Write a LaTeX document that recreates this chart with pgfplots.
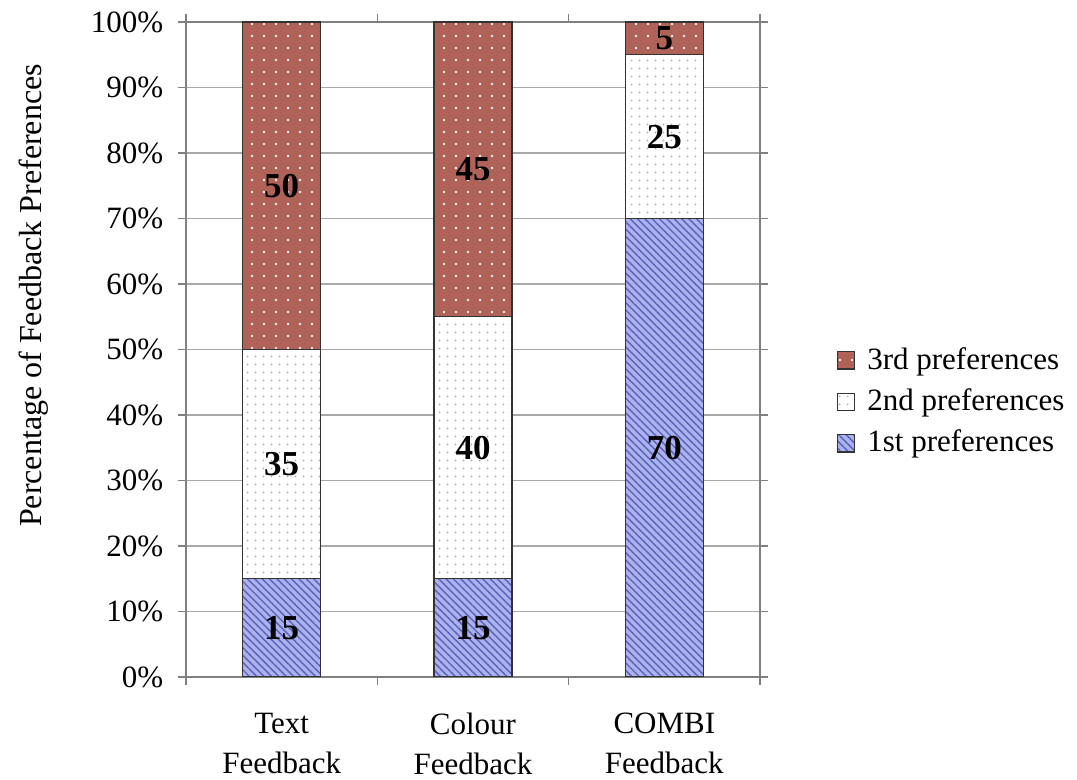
\documentclass[border=0pt]{standalone}
\usepackage{pgfplots}
\pgfplotsset{compat=1.18}
\usepackage{fontspec}
\setmainfont{Liberation Serif}
\usetikzlibrary{patterns.meta}
\definecolor{firstfill}{HTML}{ABB2EE}
\definecolor{firstline}{HTML}{5A62B8}
\definecolor{thirdfill}{HTML}{AE6258}
\definecolor{dotpink}{HTML}{B89CA6}
\definecolor{gridgray}{HTML}{A8A8A8}
\definecolor{axisgray}{HTML}{808080}

\begin{document}
\fontsize{15.5}{20}\selectfont
\begin{tikzpicture}
\useasboundingbox (-93pt,-51.5pt) rectangle (445.5pt,338.5pt);
\begin{axis}[
    at={(0,0)}, anchor=south west,
    width=287pt, height=327.5pt, scale only axis,
    ybar stacked, bar width=39pt,
    xmin=-0.5, xmax=2.5, ymin=0, ymax=100,
    xtick={0,1,2},
    xticklabels={Text\\Feedback, Colour\\Feedback, COMBI\\Feedback},
    xticklabel style={align=center, yshift=-8.5pt},
    minor xtick={-0.5,0.5,1.5,2.5},
    major x tick style={draw=none},
    ytick={0,10,...,100},
    yticklabel={\pgfmathprintnumber{\tick}\%},
    yticklabel style={xshift=-2pt},
    /pgf/number format/assume math mode=true,
    tick align=outside, major tick length=4pt, minor tick length=4pt,
    tick style={axisgray, line width=0.6pt},
    ymajorgrids, grid style={gridgray, line width=0.6pt},
    axis line style={axisgray, line width=0.7pt},
    ylabel={Percentage of Feedback Preferences},
    every axis y label/.style={at={(axis description cs:0,0.5)}, xshift=-76pt, yshift=27pt,
        rotate=90, anchor=center, font=\fontsize{16}{20}\selectfont},
    legend style={at={(axis description cs:1.123,0.42)}, anchor=west, draw=none, fill=none,
        row sep=3.5pt, cells={anchor=west}},
    reverse legend,
    legend image code/.code={\draw[#1, line width=0.6pt] (0pt,-4.3pt) rectangle (8.6pt,4.3pt);
        \path (12.5pt,0pt);},
]
\addplot[fill=firstfill, draw=black!80, line width=0.75pt,
    postaction={pattern={Lines[angle=-45,distance=2.6pt,line width=0.7pt]}, pattern color=firstline}]
    coordinates {(0,15) (1,15) (2,70)};
\addlegendentry{1st preferences}
\addplot[fill=white, draw=black!80, line width=0.75pt,
    postaction={pattern={Dots[distance=4pt,radius=0.5pt]}, pattern color=dotpink}]
    coordinates {(0,35) (1,40) (2,25)};
\addlegendentry{2nd preferences}
\addplot[fill=thirdfill, draw=black!80, line width=0.75pt,
    postaction={pattern={Dots[distance=6pt,radius=0.65pt]}, pattern color=white!80!pink}]
    coordinates {(0,50) (1,45) (2,5)};
\addlegendentry{3rd preferences}
\end{axis}
\begin{axis}[
    at={(0,0)}, anchor=south west,
    width=287pt, height=327.5pt, scale only axis,
    xmin=-0.5, xmax=2.5, ymin=0, ymax=100, hide axis,
]
\addplot[only marks, mark=none, nodes near coords, point meta=explicit symbolic,
    every node near coord/.append style={anchor=center, font=\fontsize{17.5}{20}\selectfont\bfseries}]
    coordinates {(0,7.5)[15] (1,7.5)[15] (2,35)[70]
                 (0,32.5)[35] (1,35)[40] (2,82.5)[25]
                 (0,75)[50] (1,77.5)[45] (2,97.5)[5]};
\end{axis}
\end{tikzpicture}
\end{document}
